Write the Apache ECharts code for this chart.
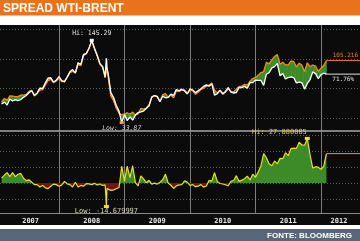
<!DOCTYPE html>
<html><head><meta charset="utf-8">
<script src="https://cdn.jsdelivr.net/npm/echarts@6/dist/echarts.min.js"></script>
<style>html,body{margin:0;padding:0;background:#fff}#c{width:360px;height:241px}</style>
</head><body><div id="c"></div>
<script>
// ---------------- DATA ----------------
const title = 'SPREAD WTI-BRENT';
const source = 'FONTE: BLOOMBERG';
const yearLabels = ['2007', '2008', '2009', '2010', '2011', '2012'];
const dates = [
 '2007-02-16','2007-03-01','2007-03-16','2007-04-01','2007-04-16','2007-05-01','2007-05-16','2007-06-01','2007-06-16','2007-07-01','2007-07-16','2007-08-01','2007-08-16','2007-09-01','2007-09-16','2007-10-01','2007-10-16','2007-11-01','2007-11-16','2007-12-01','2007-12-16',
 '2008-01-01','2008-01-16','2008-02-01','2008-02-16','2008-03-01','2008-03-16','2008-04-01','2008-04-16','2008-05-01','2008-05-16','2008-06-01','2008-06-16','2008-07-01','2008-07-16','2008-08-01','2008-08-16','2008-09-01','2008-09-15','2008-09-22','2008-09-25','2008-10-01','2008-10-16','2008-11-01','2008-11-16','2008-12-01','2008-12-16',
 '2009-01-01','2009-01-16','2009-02-01','2009-02-16','2009-03-01','2009-03-16','2009-04-01','2009-04-16','2009-05-01','2009-05-16','2009-06-01','2009-06-16','2009-07-01','2009-07-16','2009-08-01','2009-08-16','2009-09-01','2009-09-16','2009-10-01','2009-10-16','2009-11-01','2009-11-16','2009-12-01','2009-12-16',
 '2010-01-01','2010-01-16','2010-02-01','2010-02-16','2010-03-01','2010-03-16','2010-04-01','2010-04-16','2010-05-01','2010-05-16','2010-06-01','2010-06-16','2010-07-01','2010-07-16','2010-08-01','2010-08-16','2010-09-01','2010-09-16','2010-10-01','2010-10-16','2010-11-01','2010-11-16','2010-12-01','2010-12-16',
 '2011-01-01','2011-01-16','2011-02-01','2011-02-16','2011-03-01','2011-03-16','2011-04-01','2011-04-16','2011-05-01','2011-05-16','2011-06-01','2011-06-16','2011-07-01','2011-07-16','2011-08-01','2011-08-16','2011-09-01','2011-09-16','2011-10-01','2011-10-16','2011-11-01','2011-11-16','2011-12-01','2011-12-16',
 '2012-01-01','2012-01-16','2012-02-01'
];
const wti = [
 59, 61.5, 57.5, 65.9, 63.1, 65.0, 63.5, 65.1, 68.0, 70.5, 74.2, 77.0, 71.0, 74.0, 80.5, 80.0, 87.6, 94.0, 94.6, 88.7, 91.3,
 96.0, 90.8, 88.9, 95.5, 102.6, 105.7, 100.9, 114.9, 112.5, 126.3, 127.4, 134.6, 145.29, 134.6, 125.1, 113.8, 109.7, 95.7, 120.9, 108.0, 100.6, 74.5, 67.8, 57.0, 49.3, 33.87,
 44.6, 36.5, 41.7, 37.2, 44.0, 47.4, 48.4, 49.4, 53.2, 56.3, 68.6, 70.5, 69.3, 62.0, 69.5, 67.5, 68.0, 72.5, 70.8, 78.5, 77.0, 79.1, 76.6, 72.7,
 79.4, 78.0, 74.4, 77.0, 79.7, 82.9, 84.9, 83.2, 86.2, 71.1, 72.9, 77.7, 72.9, 76.0, 81.3, 75.2, 73.9, 74.6, 81.6, 81.3, 82.9, 80.4, 88.0, 88.0,
 91.4, 91.0, 90.9, 84.3, 99.6, 101.4, 107.9, 109.7, 113.9, 97.4, 100.3, 93.0, 94.9, 95.7, 94.9, 87.6, 88.8, 87.9, 79.2, 86.8, 92.2, 102.6, 100.2, 93.5,
 98.8, 100.7, 99.5
];
const brent = [
 62, 66.5, 64, 69.9, 69.6, 69, 69, 71.1, 71, 72, 76.2, 77.5, 70, 73, 78, 78.5, 84.6, 90.5, 92.6, 88, 90.3,
 94, 89.5, 89.9, 95, 101.6, 103.2, 101.4, 112.4, 111, 124.3, 127, 134.1, 144.3, 134.4, 123.9, 113.2, 108.2, 94.5, 106.2, 104.5, 96.6, 69.9, 63.5, 53.4, 46.5, 44.4,
 45.6, 47, 45.1, 48, 44.2, 45.6, 52.9, 52, 53.4, 58, 67.9, 70.4, 68.6, 62.5, 71.6, 73, 68, 71.1, 67.4, 76.7, 75.8, 78, 78, 73.3,
 77.9, 77, 72.1, 75, 78.7, 80.3, 83, 84.8, 87.4, 77.6, 73.9, 77.4, 72.3, 74.9, 79.6, 76.2, 75.5, 79.2, 82.6, 83.1, 85.6, 84.7, 89.9, 93.5,
 95, 97.8, 101.7, 102.7, 115.4, 113.4, 118.7, 123.5, 125.9, 112.8, 115.5, 112, 112, 117.2, 116.7, 109.2, 114.3, 111.7, 102.8, 114.7, 109.6, 111.9, 110.4, 103.4,
 107.4, 111.1, 117.9
];
const spread = [
 3, 5, 6.5, 4, 6.5, 4, 5.5, 6, 3, 1.5, 2, 0.5, -1, -1, -2.5, -1.5, -3, -3.5, -2, -0.7, -1,
 -2, -1.3, 1, -0.5, -1, -2.5, 0.5, -2.5, -1.5, -2, -0.4, -0.5, -1, -0.2, -1.2, -0.6, -1.5, -1.2, -14.68, -3.5, -4, -4.6, -4.3, -3.6, -2.8, 10.5,
 1, 10.5, 3.4, 10.8, 0.2, -1.8, 4.5, 2.6, 0.2, 1.7, -0.7, -0.1, -0.7, 0.5, 2.1, 5.5, 0, -1.4, -3.4, -1.8, -1.2, -1.1, 1.4, 0.6,
 -1.5, -1, -2.3, -2, -1, -2.6, -1.9, 1.6, 1.2, 6.5, 1, -0.3, -0.6, -1.1, -1.7, 1, 1.6, 4.6, 1, 1.8, 2.7, 4.3, 1.9, 5.5,
 3.6, 6.8, 10.8, 18.4, 15.8, 12, 10.8, 13.8, 12, 15.4, 15.2, 19, 17.1, 21.5, 21.8, 21.6, 25.5, 23.8, 23.6, 27.88, 17.4, 9.3, 10.2, 9.9,
 8.6, 10.4, 18.4
];
const priceGrid = [40, 80, 120, 160];
const spreadGrid = [-10, 0, 10, 20, 30];
const hiPriceText = 'Hi: 145.29';
const lowPriceText = 'Low: 33.87';
const hiSpreadText = 'Hi: 27.880005';
const lowSpreadText = 'Low: -14.679997';
const lastBrentText = '105.216';
const lastWtiText = '71.76%';

// ---------------- HELPERS ----------------
function toM(s) { const p = s.split('-').map(Number); return (p[0] - 2007) * 12 + (p[1] - 1) + (p[2] - 1) / 30.5; }
const xs = dates.map(toM);
const pair = (arr) => arr.map((v, i) => [xs[i], v]);
const X_MIN = 1.191, X_MAX = 67.145;
const lastX = xs[xs.length - 1];
function argmax(a){let k=0;a.forEach((v,i)=>{if(v>a[k])k=i;});return k;}
function argmin(a){let k=0;a.forEach((v,i)=>{if(v<a[k])k=i;});return k;}
const iHiP = argmax(wti), iLoP = argmin(wti), iHiS = argmax(spread), iLoS = argmin(spread);
const mono = '"DejaVu Sans Mono", monospace';
const GREEN = '#3f8e2b', ORANGE_FILL = '#c9701c';

const chart = echarts.init(document.getElementById('c'), null, { renderer: 'canvas' });

const gridLine = { show: true, lineStyle: { color: '#5a5a5a', width: 1, type: [1, 2] } };
const yearLine = { show: true, lineStyle: { color: '#9a9a9a', width: 1, opacity: 0.8 } };

// band between Brent and WTI, one quad per segment
function bandItem(params, api) {
  const i = params.dataIndex;
  if (i >= xs.length - 1) return null;
  const p1 = api.coord([xs[i], brent[i]]), p2 = api.coord([xs[i + 1], brent[i + 1]]);
  const p3 = api.coord([xs[i + 1], wti[i + 1]]), p4 = api.coord([xs[i], wti[i]]);
  const up = (brent[i] + brent[i + 1]) >= (wti[i] + wti[i + 1]);
  const c = up ? GREEN : ORANGE_FILL;
  return { type: 'polygon', shape: { points: [p1, p2, p3, p4] }, style: { fill: c, stroke: c, lineWidth: 0.6 } };
}

function buildOption(zeroY, topY, botY) {
  const stop = Math.min(1, Math.max(0, (zeroY - topY) / (botY - topY)));
  return {
    backgroundColor: '#ffffff',
    animation: false,
    graphic: [
      { type: 'rect', z: -10, shape: { x: 0, y: 0, width: 360, height: 15.5 }, style: { fill: '#e8731c' } },
      { type: 'text', z: 10, style: { text: title, x: 3, y: 8.5, verticalAlign: 'middle', fill: '#ffffff', fontSize: 12, fontWeight: 'bold', fontFamily: '"Liberation Sans", Arial, sans-serif' } },
      { type: 'rect', z: -10, shape: { x: 0, y: 25, width: 360, height: 200 }, style: { fill: '#0b0b0b' } },
      { type: 'rect', z: -10, shape: { x: 0, y: 229, width: 360, height: 12 }, style: { fill: '#566879' } },
      { type: 'text', z: 10, style: { text: source, x: 352, y: 235.5, align: 'right', verticalAlign: 'middle', fill: '#ffffff', fontSize: 8, fontWeight: 'bold', fontFamily: '"Liberation Sans Narrow", "Liberation Sans", Arial, sans-serif' } }
    ],
    grid: [
      { left: 0, right: 0, top: 25, height: 106 },
      { left: 0, right: 0, top: 132, height: 81 }
    ],
    xAxis: [
      { type: 'value', gridIndex: 0, min: X_MIN, max: X_MAX,
        axisLine: { show: true, onZero: false, lineStyle: { color: '#a8a8a8', width: 1.5 } },
        axisTick: { show: false, customValues: [12, 24, 36, 48, 60] },
        axisLabel: { show: false }, splitLine: yearLine },
      { type: 'value', gridIndex: 1, min: X_MIN, max: X_MAX,
        axisLine: { show: true, onZero: false, lineStyle: { color: '#8a8a8a', width: 1 } },
        axisTick: { show: false, customValues: [12, 24, 36, 48, 60] },
        axisLabel: { show: true, customValues: [6.8, 18, 30, 42, 54, 63.3], margin: 5, color: '#e8e8e8', fontSize: 7, fontWeight: 'bold', fontFamily: mono,
          formatter: (v) => yearLabels[Math.floor(v / 12)] },
        splitLine: yearLine }
    ],
    yAxis: [
      { type: 'value', gridIndex: 0, min: 22.4, max: 166.1, axisLine: { show: false }, axisLabel: { show: false },
        axisTick: { show: false, customValues: priceGrid }, splitLine: gridLine },
      { type: 'value', gridIndex: 1, min: -18.75, max: 31.9, axisLine: { show: false }, axisLabel: { show: false },
        axisTick: { show: false, customValues: spreadGrid }, splitLine: gridLine }
    ],
    series: [
      { name: 'band', type: 'custom', xAxisIndex: 0, yAxisIndex: 0, data: xs.map((x, i) => [x, brent[i], wti[i]]),
        encode: { x: 0, y: [1, 2] }, renderItem: bandItem, silent: true, z: 2, clip: true },
      { name: 'Brent', type: 'line', xAxisIndex: 0, yAxisIndex: 0, data: pair(brent), symbol: 'none',
        lineStyle: { color: '#f08a1e', width: 1.3 }, z: 3 },
      { name: 'WTI', type: 'line', xAxisIndex: 0, yAxisIndex: 0, data: pair(wti), symbol: 'none',
        lineStyle: { color: '#ffffff', width: 1.3 }, z: 4,
        markPoint: { symbol: 'rect', symbolSize: [4, 3], data: [
          { coord: [xs[iHiP], wti[iHiP]], itemStyle: { color: '#ffffff' },
            label: { show: true, position: 'top', distance: 2, formatter: hiPriceText, color: '#e6e6e6', fontSize: 6.5, fontFamily: mono } },
          { coord: [xs[iLoP], wti[iLoP]], itemStyle: { color: '#f0a040' },
            label: { show: true, position: 'bottom', distance: 1, formatter: lowPriceText, color: '#d8d8d8', fontSize: 6.5, fontStyle: 'italic', fontFamily: mono } }
        ] } },
      { name: 'BrentLast', type: 'line', xAxisIndex: 0, yAxisIndex: 0, data: [[lastX, brent[brent.length - 1]], [X_MAX, brent[brent.length - 1]]],
        symbol: 'none', lineStyle: { color: '#e07a1a', width: 1 }, z: 3,
        endLabel: { show: true, formatter: lastBrentText, align: 'right', distance: 0, offset: [-2, -5], color: '#e88020', fontSize: 6, fontFamily: mono } },
      { name: 'WtiLast', type: 'line', xAxisIndex: 0, yAxisIndex: 0, data: [[lastX, wti[wti.length - 1]], [X_MAX, wti[wti.length - 1]]],
        symbol: 'none', lineStyle: { color: '#e0e0e0', width: 1 }, z: 3,
        endLabel: { show: true, formatter: lastWtiText, align: 'right', distance: 0, offset: [-6, 5], color: '#e8e8e8', fontSize: 6, fontFamily: mono } },
      { name: 'Spread', type: 'line', xAxisIndex: 1, yAxisIndex: 1, data: pair(spread), symbol: 'none',
        lineStyle: { color: '#e8e020', width: 1.2 }, z: 3,
        areaStyle: { opacity: 1, origin: 0, color: { type: 'linear', global: true, x: 0, y: topY, x2: 0, y2: botY,
          colorStops: [{ offset: 0, color: '#3c8a28' }, { offset: stop, color: '#3c8a28' }, { offset: stop, color: '#741414' }, { offset: 1, color: '#741414' }] } },
        markPoint: { symbol: 'rect', symbolSize: [5, 3], data: [
          { coord: [xs[iHiS], spread[iHiS]], itemStyle: { color: '#f0e020' },
            label: { show: true, position: 'left', distance: 1, offset: [3, -6], formatter: hiSpreadText, color: '#e0d050', fontSize: 7, fontFamily: mono } },
          { coord: [xs[iLoS], spread[iLoS]], itemStyle: { color: '#f0e020' },
            label: { show: true, position: 'bottom', distance: 0, formatter: lowSpreadText, color: '#d8d8b0', fontSize: 7, fontFamily: mono } }
        ] } },
      { name: 'SpreadLast', type: 'line', xAxisIndex: 1, yAxisIndex: 1, data: [[lastX, spread[spread.length - 1]], [X_MAX, spread[spread.length - 1]]],
        symbol: 'none', lineStyle: { color: '#c8a020', width: 1 }, z: 3 }
    ]
  };
}

chart.setOption(buildOption(183, 132, 213));
const zeroY = chart.convertToPixel({ yAxisIndex: 1 }, 0);
const topY = chart.convertToPixel({ yAxisIndex: 1 }, 31.9);
const botY = chart.convertToPixel({ yAxisIndex: 1 }, -18.75);
chart.setOption(buildOption(zeroY, topY, botY));
</script></body></html>
